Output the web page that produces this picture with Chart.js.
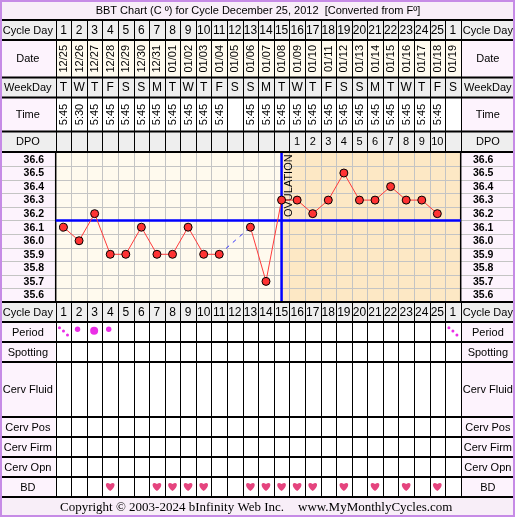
<!DOCTYPE html>
<html>
<head>
<meta charset="utf-8">
<script src="https://cdn.jsdelivr.net/npm/chart.js@4.4.1/dist/chart.umd.min.js"></script>
<style>
html, body { margin: 0; padding: 0; background: #fff; }
canvas { display: block; }
</style>
</head>
<body>
<canvas id="bbt" width="515" height="517"></canvas>
<script>
// chart data
var cycleDays = ['1','2','3','4','5','6','7','8','9','10','11','12','13','14','15','16','17','18','19','20','21','22','23','24','25','1'];
var dates = ['12/25','12/26','12/27','12/28','12/29','12/30','12/31','01/01','01/02','01/03','01/04','01/05','01/06','01/07','01/08','01/09','01/10','01/11','01/12','01/13','01/14','01/15','01/16','01/17','01/18','01/19'];
var weekDays = ['T','W','T','F','S','S','M','T','W','T','F','S','S','M','T','W','T','F','S','S','M','T','W','T','F','S'];
var times = ['5:45','5:30','5:45','5:45','5:45','5:45','5:45','5:45','5:45','5:45','5:45','','5:45','5:45','5:45','5:45','5:45','5:45','5:45','5:45','5:45','5:45','5:45','5:45','5:45',''];
var dpo = ['','','','','','','','','','','','','','','','1','2','3','4','5','6','7','8','9','10',''];
var temps = [36.1, 36.0, 36.2, 35.9, 35.9, 36.1, 35.9, 35.9, 36.1, 35.9, 35.9, null, 36.1, 35.7, 36.3, 36.3, 36.2, 36.3, 36.5, 36.3, 36.3, 36.4, 36.3, 36.3, 36.2, null];
var tempTicks = ['36.6','36.5','36.4','36.3','36.2','36.1','36.0','35.9','35.8','35.7','35.6'];
// 0 none, 1 light, 2 medium, 3 heavy
var periodFlow = [1,2,3,2,0,0,0,0,0,0,0,0,0,0,0,0,0,0,0,0,0,0,0,0,0,1];
var intercourse = [0,0,0,1,0,0,1,1,1,1,0,0,1,1,1,1,1,0,1,0,1,0,1,0,1,0];
var coverline = 36.15;
var ovulationDay = 15;

var titleText = 'BBT Chart (C \u00ba) for Cycle December 25, 2012  [Converted from F\u00ba]';

var topRows = [
    { name: 'Cycle Day', top: 20, bottom: 40, fill: '#eeeeee', labelFill: '#eeeeee', values: cycleDays, size: 12 },
    { name: 'Date', top: 40, bottom: 77.5, fill: '#fffbef', labelFill: '#fdf3fd', values: dates, size: 11, rotate: true },
    { name: 'WeekDay', top: 77.5, bottom: 97.5, fill: '#eeeeee', labelFill: '#eeeeee', values: weekDays, size: 12 },
    { name: 'Time', top: 97.5, bottom: 131.5, fill: '#ffffff', labelFill: '#fdf3fd', values: times, size: 11, rotate: true },
    { name: 'DPO', top: 131.5, bottom: 152, fill: '#eeeeee', labelFill: '#eeeeee', values: dpo, size: 11 }
];
var bottomRows = [
    { name: 'Cycle Day', top: 302, bottom: 322, fill: '#eeeeee', labelFill: '#eeeeee', values: cycleDays, size: 12 },
    { name: 'Period', top: 322, bottom: 342, fill: '#ffffff', labelFill: '#fdf3fd' },
    { name: 'Spotting', top: 342, bottom: 362, fill: '#ffffff', labelFill: '#fdf3fd' },
    { name: 'Cerv Fluid', top: 362, bottom: 417, fill: '#ffffff', labelFill: '#fdf3fd' },
    { name: 'Cerv Pos', top: 417, bottom: 437, fill: '#ffffff', labelFill: '#fdf3fd' },
    { name: 'Cerv Firm', top: 437, bottom: 457, fill: '#ffffff', labelFill: '#fdf3fd' },
    { name: 'Cerv Opn', top: 457, bottom: 477, fill: '#ffffff', labelFill: '#fdf3fd' },
    { name: 'BD', top: 477, bottom: 497, fill: '#ffffff', labelFill: '#fdf3fd' }
];

var FONT = '"Liberation Sans", Arial, sans-serif';

function colWidth(chart) {
    return (chart.chartArea.right - chart.chartArea.left) / cycleDays.length;
}

function drawRows(chart, rows) {
    var ctx = chart.ctx, area = chart.chartArea, x = chart.scales.x;
    var w = colWidth(chart);
    rows.forEach(function (row) {
        ctx.fillStyle = row.labelFill;
        ctx.fillRect(0, row.top, area.left, row.bottom - row.top);
        ctx.fillRect(area.right, row.top, 515 - area.right, row.bottom - row.top);
        ctx.fillStyle = row.fill;
        ctx.fillRect(area.left, row.top, area.right - area.left, row.bottom - row.top);

        ctx.fillStyle = '#000';
        ctx.font = '11px ' + FONT;
        ctx.textAlign = 'center';
        ctx.textBaseline = 'middle';
        var mid = (row.top + row.bottom) / 2;
        ctx.fillText(row.name, area.left / 2, mid + 0.5);
        ctx.fillText(row.name, (area.right + 515) / 2, mid + 0.5);

        if (row.values) {
            ctx.font = row.size + 'px ' + FONT;
            row.values.forEach(function (v, i) {
                var cx = x.getPixelForValue(i);
                if (row.rotate) {
                    ctx.save();
                    ctx.translate(cx + 0.5, mid);
                    ctx.rotate(-Math.PI / 2);
                    ctx.fillText(v, 0, 0);
                    ctx.restore();
                } else {
                    ctx.fillText(v, cx, mid + 0.5);
                }
            });
        }
    });

    // grid lines
    var top = rows[0].top, bottom = rows[rows.length - 1].bottom;
    ctx.strokeStyle = '#000';
    ctx.lineWidth = 1;
    ctx.beginPath();
    for (var i = 0; i <= cycleDays.length; i++) {
        var bx = Math.round(area.left + i * w) + 0.5;
        ctx.moveTo(bx, top);
        ctx.lineTo(bx, bottom);
    }
    ctx.stroke();
    ctx.lineWidth = 2;
    ctx.beginPath();
    ctx.moveTo(0, top);
    ctx.lineTo(515, top);
    rows.forEach(function (row) {
        ctx.moveTo(0, row.bottom);
        ctx.lineTo(515, row.bottom);
    });
    ctx.stroke();
}

function drawHeart(ctx, cx, cy) {
    ctx.beginPath();
    ctx.moveTo(cx, cy + 4.5);
    ctx.bezierCurveTo(cx - 6.5, cy, cx - 5, cy - 6, cx, cy - 2.5);
    ctx.bezierCurveTo(cx + 5, cy - 6, cx + 6.5, cy, cx, cy + 4.5);
    ctx.closePath();
    ctx.fillStyle = '#e5447e';
    ctx.fill();
}

var tablePlugin = {
    id: 'bbtTable',
    beforeDraw: function (chart) {
        var ctx = chart.ctx, area = chart.chartArea, x = chart.scales.x, y = chart.scales.y;
        var w = colWidth(chart);
        var ovX = x.getPixelForValue(ovulationDay - 1);
        ctx.save();
        ctx.fillStyle = '#ffffff';
        ctx.fillRect(0, 0, 515, 517);

        // temperature area
        ctx.fillStyle = '#fdf3fd';
        ctx.fillRect(0, area.top, area.left, area.bottom - area.top);
        ctx.fillRect(area.right, area.top, 515 - area.right, area.bottom - area.top);
        ctx.fillStyle = '#fffaee';
        ctx.fillRect(area.left, area.top, ovX - area.left, area.bottom - area.top);
        ctx.fillStyle = '#fde8c5';
        ctx.fillRect(ovX, area.top, area.right - ovX, area.bottom - area.top);

        ctx.strokeStyle = '#c4c4c4';
        ctx.lineWidth = 1;
        ctx.beginPath();
        for (var i = 1; i < cycleDays.length; i++) {
            var bx = Math.round(area.left + i * w) + 0.5;
            ctx.moveTo(bx, area.top);
            ctx.lineTo(bx, area.bottom);
        }
        tempTicks.forEach(function (t, k) {
            if (k === 0) return;
            var by = Math.round(y.getPixelForValue(parseFloat(t) + 0.05)) + 0.5;
            ctx.moveTo(0, by);
            ctx.lineTo(515, by);
        });
        ctx.stroke();

        ctx.strokeStyle = '#000';
        ctx.lineWidth = 1.5;
        ctx.beginPath();
        ctx.moveTo(area.left, area.top);
        ctx.lineTo(area.left, area.bottom);
        ctx.moveTo(area.right, area.top);
        ctx.lineTo(area.right, area.bottom);
        ctx.stroke();

        ctx.fillStyle = '#000';
        ctx.font = 'bold 10.5px ' + FONT;
        ctx.textBaseline = 'middle';
        tempTicks.forEach(function (t) {
            var ty = y.getPixelForValue(parseFloat(t)) + 0.5;
            ctx.textAlign = 'right';
            ctx.fillText(t, 44, ty);
            ctx.textAlign = 'left';
            ctx.fillText(t, 473, ty);
        });
        ctx.restore();
    },
    beforeDatasetsDraw: function (chart) {
        var ctx = chart.ctx, area = chart.chartArea, x = chart.scales.x, y = chart.scales.y;
        var ovX = x.getPixelForValue(ovulationDay - 1);
        var cy = y.getPixelForValue(coverline);
        ctx.save();
        ctx.strokeStyle = '#0000ff';
        ctx.lineWidth = 2.5;
        ctx.beginPath();
        ctx.moveTo(area.left, cy);
        ctx.lineTo(area.right, cy);
        ctx.moveTo(ovX, area.top);
        ctx.lineTo(ovX, area.bottom);
        ctx.stroke();

        ctx.fillStyle = '#000';
        ctx.font = '11px ' + FONT;
        ctx.textAlign = 'center';
        ctx.textBaseline = 'middle';
        ctx.translate(ovX + 7.5, area.top + 33);
        ctx.rotate(-Math.PI / 2);
        ctx.fillText('OVULATION', 0, 0);
        ctx.restore();
    },
    afterDraw: function (chart) {
        var ctx = chart.ctx, x = chart.scales.x;
        ctx.save();

        // title
        ctx.fillStyle = '#f8eef8';
        ctx.fillRect(0, 0, 515, 20);
        ctx.fillStyle = '#000';
        ctx.font = '11px ' + FONT;
        ctx.textAlign = 'center';
        ctx.textBaseline = 'middle';
        ctx.fillText(titleText, 258, 10.5);

        drawRows(chart, topRows);
        drawRows(chart, bottomRows);

        // period
        periodFlow.forEach(function (f, i) {
            var cx = x.getPixelForValue(i);
            ctx.fillStyle = '#ea2ee6';
            ctx.beginPath();
            if (f === 1) {
                ctx.arc(cx - 4, 327.7, 1.5, 0, Math.PI * 2);
                ctx.moveTo(cx + 1.5, 331);
                ctx.arc(cx, 331, 1.5, 0, Math.PI * 2);
                ctx.moveTo(cx + 5.5, 335);
                ctx.arc(cx + 4, 335, 1.5, 0, Math.PI * 2);
            } else if (f === 2) {
                ctx.arc(cx - 1.5, 329.3, 2.7, 0, Math.PI * 2);
            } else if (f === 3) {
                ctx.arc(cx - 0.5, 330.7, 4, 0, Math.PI * 2);
            }
            ctx.fill();
        });

        // intercourse
        intercourse.forEach(function (b, i) {
            if (b) drawHeart(ctx, x.getPixelForValue(i), 486.5);
        });

        // footer
        ctx.fillStyle = '#f8eef8';
        ctx.fillRect(0, 498, 515, 19);
        ctx.fillStyle = '#000';
        ctx.font = '13px "Liberation Serif", "Times New Roman", serif';
        ctx.textAlign = 'left';
        ctx.fillText('Copyright \u00a9 2003-2024 bInfinity Web Inc.', 60, 508);
        ctx.fillText('www.MyMonthlyCycles.com', 298, 508);

        // outer border
        ctx.strokeStyle = '#c68be6';
        ctx.lineWidth = 2;
        ctx.strokeRect(1, 1, 513, 515);
        ctx.restore();
    }
};

function isGap(seg) {
    return seg.p0.skip || seg.p1.skip;
}

new Chart(document.getElementById('bbt'), {
    type: 'line',
    data: {
        labels: dates,
        datasets: [{
            label: 'BBT',
            data: temps,
            borderColor: '#ff3b3b',
            borderWidth: 1,
            tension: 0,
            spanGaps: true,
            pointRadius: 4,
            pointBackgroundColor: '#ff3333',
            pointBorderColor: '#000',
            pointBorderWidth: 1,
            segment: {
                borderColor: function (seg) { return isGap(seg) ? '#3333ff' : undefined; },
                borderDash: function (seg) { return isGap(seg) ? [4, 5] : undefined; }
            }
        }]
    },
    options: {
        responsive: false,
        animation: false,
        events: [],
        layout: { padding: { left: 55.7, right: 54.3, top: 152.7, bottom: 215.3 } },
        scales: {
            x: { display: false, offset: true },
            y: { display: false, min: 35.55, max: 36.65 }
        },
        plugins: {
            legend: { display: false },
            tooltip: { enabled: false }
        }
    },
    plugins: [tablePlugin]
});
</script>
</body>
</html>
